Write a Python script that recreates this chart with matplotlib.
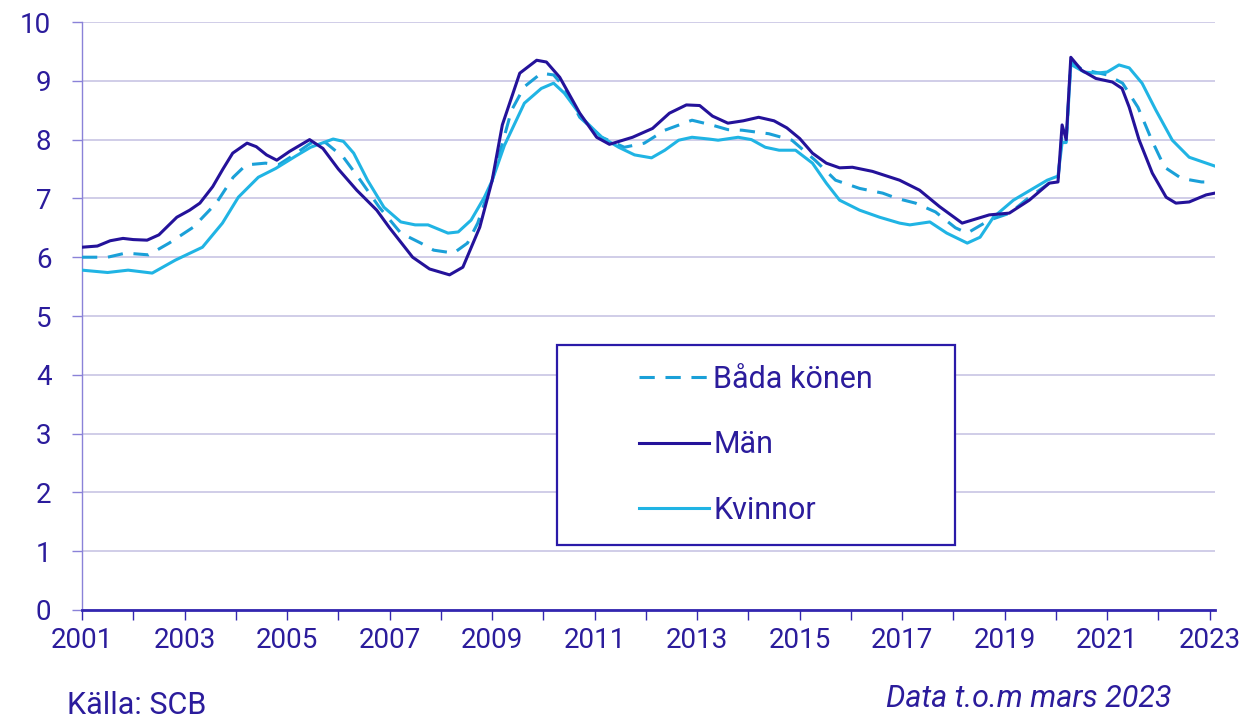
import matplotlib
matplotlib.use("Agg")
import matplotlib.pyplot as plt
from matplotlib.patches import Rectangle
from matplotlib.ticker import MultipleLocator

plt.rcParams["font.family"] = ["Roboto", "DejaVu Sans"]

# Colours
TEXT = "#2b1c9c"
MAN_COLOR = "#24129a"
KVINNOR_COLOR = "#20b4e4"
BADA_COLOR = "#1aa0d8"
GRID = "#cdc9e6"

# Män
t_man = [2001.0, 2001.3, 2001.55, 2001.8, 2002.0, 2002.27, 2002.5, 2002.85, 2003.1, 2003.3,
         2003.55, 2003.75, 2003.94, 2004.22, 2004.4, 2004.6, 2004.8, 2005.05, 2005.44, 2005.7,
         2006.0, 2006.36, 2006.75, 2007.0, 2007.45, 2007.78, 2008.17, 2008.43, 2008.76, 2009.0,
         2009.2, 2009.54, 2009.87, 2010.06, 2010.32, 2010.71, 2011.04, 2011.29, 2011.74, 2012.13,
         2012.46, 2012.79, 2013.05, 2013.3, 2013.6, 2013.9, 2014.2, 2014.5, 2014.75, 2015.0,
         2015.25, 2015.52, 2015.78, 2016.03, 2016.42, 2016.95, 2017.34, 2017.73, 2018.17, 2018.7,
         2019.09, 2019.48, 2019.87, 2020.04, 2020.12, 2020.2, 2020.29, 2020.5, 2020.78, 2021.1,
         2021.29, 2021.43, 2021.62, 2021.88, 2022.15, 2022.34, 2022.6, 2022.93, 2023.1]
man = [6.17, 6.19, 6.28, 6.32, 6.30, 6.29, 6.38, 6.68, 6.80, 6.92,
       7.20, 7.50, 7.77, 7.94, 7.88, 7.74, 7.65, 7.80, 8.00, 7.85,
       7.50, 7.14, 6.80, 6.50, 6.00, 5.80, 5.70, 5.83, 6.51, 7.30,
       8.25, 9.13, 9.35, 9.32, 9.06, 8.45, 8.04, 7.92, 8.04, 8.19,
       8.45, 8.59, 8.58, 8.40, 8.28, 8.32, 8.38, 8.32, 8.20, 8.02,
       7.77, 7.60, 7.52, 7.53, 7.46, 7.31, 7.14, 6.86, 6.58, 6.72,
       6.75, 6.97, 7.26, 7.28, 8.25, 8.00, 9.40, 9.18, 9.04, 8.98,
       8.87, 8.55, 8.00, 7.43, 7.02, 6.92, 6.94, 7.06, 7.09]

# Kvinnor
t_kvinnor = [2001.0, 2001.5, 2001.9, 2002.37, 2002.82, 2003.35, 2003.74, 2004.05, 2004.44, 2004.78,
             2005.17, 2005.46, 2005.9, 2006.1, 2006.3, 2006.57, 2006.89, 2007.22, 2007.5, 2007.75,
             2008.14, 2008.34, 2008.59, 2008.85, 2009.0, 2009.24, 2009.63, 2009.96, 2010.2, 2010.41,
             2010.8, 2011.14, 2011.47, 2011.78, 2012.11, 2012.37, 2012.64, 2012.9, 2013.23, 2013.41,
             2013.8, 2014.06, 2014.33, 2014.6, 2014.92, 2015.25, 2015.52, 2015.78, 2016.17, 2016.56,
             2016.95, 2017.15, 2017.54, 2017.87, 2018.27, 2018.52, 2018.78, 2019.17, 2019.5, 2019.83,
             2020.04, 2020.12, 2020.2, 2020.29, 2020.55, 2020.78, 2021.0, 2021.23, 2021.43, 2021.68,
             2021.95, 2022.27, 2022.6, 2023.1]
kvinnor = [5.78, 5.74, 5.78, 5.73, 5.95, 6.17, 6.58, 7.02, 7.36, 7.51,
           7.72, 7.87, 8.01, 7.97, 7.77, 7.31, 6.85, 6.60, 6.55, 6.55,
           6.41, 6.43, 6.63, 7.02, 7.30, 7.90, 8.62, 8.87, 8.96, 8.79,
           8.33, 8.04, 7.87, 7.74, 7.69, 7.82, 7.99, 8.04, 8.01, 7.99,
           8.04, 8.00, 7.87, 7.82, 7.82, 7.60, 7.26, 6.97, 6.80, 6.68,
           6.58, 6.55, 6.60, 6.41, 6.24, 6.34, 6.68, 6.97, 7.14, 7.31,
           7.38, 7.95, 7.95, 9.28, 9.15, 9.13, 9.15, 9.27, 9.22, 8.96,
           8.50, 7.99, 7.70, 7.55]

# Båda könen
t_bada = [2001.0, 2001.5, 2001.85, 2002.3, 2002.7, 2003.17, 2003.62, 2003.95, 2004.2, 2004.58,
          2004.83, 2005.1, 2005.46, 2005.75, 2006.1, 2006.43, 2006.8, 2007.22, 2007.61, 2007.86,
          2008.25, 2008.52, 2008.72, 2009.0, 2009.38, 2009.63, 2009.96, 2010.2, 2010.4, 2010.71,
          2011.14, 2011.58, 2011.97, 2012.37, 2012.9, 2013.28, 2013.6, 2013.88, 2014.4, 2014.85,
          2015.3, 2015.7, 2016.17, 2016.62, 2016.9, 2017.26, 2017.65, 2018.04, 2018.27, 2018.7,
          2019.1, 2019.48, 2019.87, 2020.04, 2020.12, 2020.2, 2020.29, 2020.5, 2021.0, 2021.3,
          2021.6, 2021.87, 2022.12, 2022.45, 2022.84, 2023.1]
bada = [6.00, 6.00, 6.07, 6.04, 6.24, 6.51, 6.92, 7.36, 7.57, 7.60,
        7.57, 7.72, 7.94, 7.95, 7.70, 7.31, 6.85, 6.41, 6.24, 6.12,
        6.07, 6.24, 6.58, 7.30, 8.50, 8.90, 9.13, 9.10, 8.90, 8.38,
        8.04, 7.87, 7.94, 8.16, 8.33, 8.25, 8.17, 8.16, 8.10, 7.99,
        7.65, 7.31, 7.17, 7.09, 7.00, 6.92, 6.77, 6.50, 6.41, 6.63,
        6.75, 7.02, 7.26, 7.32, 8.10, 7.98, 9.33, 9.20, 9.10, 8.96,
        8.55, 7.99, 7.53, 7.34, 7.28, 7.28]

year_ticks = list(range(2001, 2024, 2))

fig = plt.figure(figsize=(12.46, 7.2), dpi=100)
ax = fig.add_axes([0.0658, 0.1528, 0.9092, 0.8166])

ax.plot(t_bada, bada, color=BADA_COLOR, lw=2.2, dashes=(5, 3.5), label="Båda könen", zorder=3)
ax.plot(t_man, man, color=MAN_COLOR, lw=2.2, label="Män", zorder=4)
ax.plot(t_kvinnor, kvinnor, color=KVINNOR_COLOR, lw=2.2, label="Kvinnor", zorder=3)

ax.set_xlim(2001, 2023.1)
ax.set_ylim(0, 10)
ax.set_xticks(year_ticks)
ax.xaxis.set_minor_locator(MultipleLocator(1))
ax.yaxis.set_major_locator(MultipleLocator(1))
ax.grid(axis="y", color=GRID, lw=1.3, zorder=0)
ax.set_axisbelow(True)

for s in ["top", "right"]:
    ax.spines[s].set_visible(False)
ax.spines["left"].set_color("#8a82d8")
ax.spines["left"].set_linewidth(1.0)
ax.spines["bottom"].set_color("#3326b0")
ax.spines["bottom"].set_linewidth(2.0)

ax.tick_params(axis="y", length=7, width=1, color="#8a82d8", pad=15,
               labelsize=20, labelcolor=TEXT)
ax.tick_params(axis="x", which="both", length=7, width=1, color="#3326b0",
               pad=5, labelsize=20, labelcolor=TEXT)

# legend box
ax.add_patch(Rectangle((0.419, 0.111), 0.352, 0.340, transform=ax.transAxes,
                       facecolor="white", edgecolor="#2a1aa8", lw=1.6, zorder=5))
leg = ax.legend(loc="center", bbox_to_anchor=(0.595, 0.281), frameon=False,
                fontsize=22, labelspacing=1.2, handlelength=2.3, handletextpad=0.12)
leg.set_zorder(6)
for txt in leg.get_texts():
    txt.set_color(TEXT)

fig.text(0.054, 0.0, "Källa: SCB", fontsize=22, color=TEXT, ha="left", va="bottom")
fig.text(0.94, 0.01, "Data t.o.m mars 2023", fontsize=22, color=TEXT, ha="right",
         va="bottom", style="italic")

fig.savefig("out.png", dpi=100)
